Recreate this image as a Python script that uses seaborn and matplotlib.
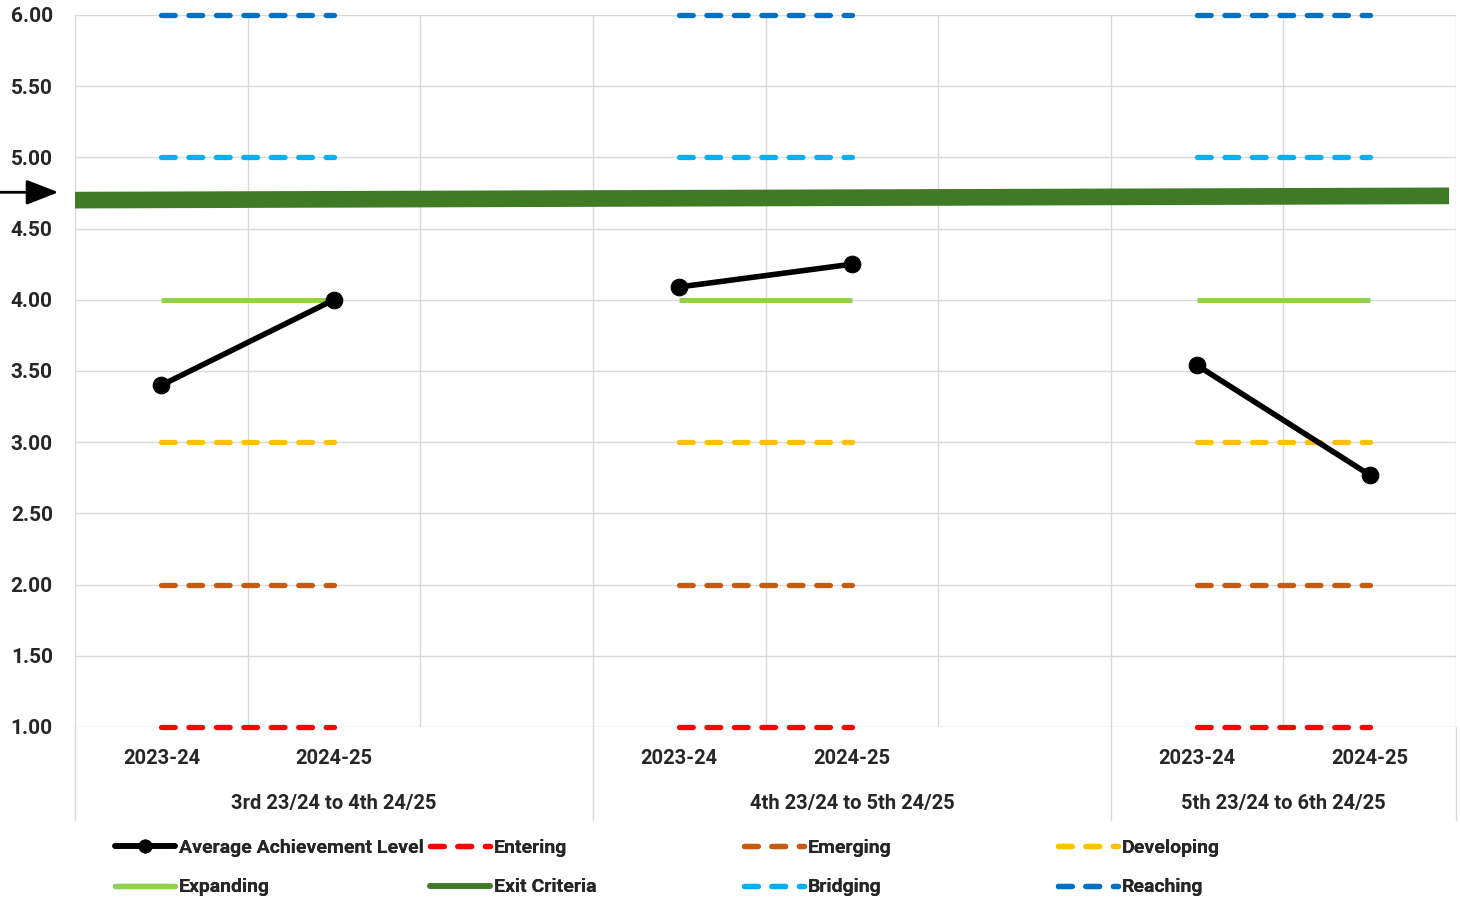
import numpy as np
import pandas as pd
import matplotlib
matplotlib.use("Agg")
import matplotlib.pyplot as plt
from matplotlib.lines import Line2D
import seaborn as sns

# categories on the x axis (blank slot between groups)
categories = ['2023-24', '2024-25', '', '2023-24', '2024-25', '', '2023-24', '2024-25']
group_names = ['3rd 23/24 to 4th 24/25', '4th 23/24 to 5th 24/25', '5th 23/24 to 6th 24/25']
group_start = [0, 3, 6]

avg_2324 = [3.40, 4.09, 3.54]
avg_2425 = [4.00, 4.25, 2.77]

level_names = ['Entering', 'Emerging', 'Developing', 'Expanding', 'Bridging', 'Reaching']
level_values = [1, 2, 3, 4, 5, 6]
level_colors = ['#FF0000', '#C55A11', '#FFC000', '#92D050', '#00B0F0', '#0070C0']

exit_values = [4.70, 4.73]
exit_color = '#3E7B24'

sns.set_theme(style='white')
plt.rcParams['font.family'] = ['Roboto', 'DejaVu Sans']
plt.rcParams['font.weight'] = 'bold'

fig = plt.figure(figsize=(14.6, 9.08), dpi=100)
ax = fig.add_axes([75/1460, 1-727/908, 1381/1460, 712/908])

# average achievement data as a frame
rows = []
for g, s in enumerate(group_start):
    rows.append({'group': group_names[g], 'pos': s, 'avg': avg_2324[g]})
    rows.append({'group': group_names[g], 'pos': s + 1, 'avg': avg_2425[g]})
df = pd.DataFrame(rows)

dash = (0, (2.6, 2.6))

# level reference lines
handles = {}
for name, val, col in zip(level_names, level_values, level_colors):
    for s in group_start:
        if name == 'Expanding':
            ax.plot([s, s + 1], [val, val], color=col, lw=3.6, solid_capstyle='butt',
                    clip_on=False, zorder=3)
        else:
            ax.plot([s, s + 1], [val, val], color=col, lw=3.8, ls=dash,
                    dash_capstyle='round', clip_on=False, zorder=3)
    if name == 'Expanding':
        handles[name] = Line2D([], [], color=col, lw=3.8, solid_capstyle='round')
    else:
        handles[name] = Line2D([], [], color=col, lw=3.8, ls=dash, dash_capstyle='round')

# exit criteria band
ax.plot([-0.5, 7.46], exit_values, color=exit_color, lw=12, solid_capstyle='butt', zorder=4)
handles['Exit Criteria'] = Line2D([], [], color=exit_color, lw=4, solid_capstyle='round')

for g in group_names:
    sns.lineplot(data=df[df['group'] == g], x='pos', y='avg', color='black', lw=4,
                 marker='o', markersize=12, markeredgecolor='black', ax=ax, zorder=5,
                 legend=False)
handles['Average Achievement Level'] = Line2D([], [], color='black', lw=4, marker='o',
                                              markersize=9, solid_capstyle='round')

ax.set_xlim(-0.5, 7.5)
ax.set_ylim(1, 6)
ax.set_yticks(np.arange(1, 6.01, 0.5))
ax.set_yticklabels([f'{v:.2f}' for v in np.arange(1, 6.01, 0.5)], fontsize=15, fontweight='bold')
ax.set_xticks(range(len(categories)))
ax.set_xticklabels(categories, fontsize=14.5, fontweight='bold')
ax.set_xticks(np.arange(-0.5, 8, 1), minor=True)
ax.tick_params(axis='both', which='both', length=0)
ax.tick_params(axis='y', pad=16)
ax.tick_params(axis='x', pad=16)
ax.grid(axis='y', which='major', color='#D9D9D9', lw=1)
ax.grid(axis='x', which='minor', color='#D9D9D9', lw=1)
ax.grid(axis='x', which='major', visible=False)
ax.set_xlabel('')
ax.set_ylabel('')
for sp in ax.spines.values():
    sp.set_visible(False)

# group labels and separators below the axis
trans = ax.get_xaxis_transform()
bounds = [-0.5, 2.5, 5.5, 7.5]
for i, g in enumerate(group_names):
    ax.text((bounds[i] + bounds[i + 1]) / 2, -0.108, g, transform=trans, ha='center',
            va='center', fontsize=14.5, fontweight='bold')
for b in bounds:
    ax.plot([b, b], [0, -0.1306], transform=trans, color='#D9D9D9', lw=1, clip_on=False)

# arrow pointing at exit criteria
ax.annotate('', xy=(-0.012, 4.755), xytext=(-0.055, 4.755),
            xycoords=('axes fraction', 'data'), textcoords=('axes fraction', 'data'),
            arrowprops=dict(arrowstyle='-|>,head_length=0.9,head_width=0.35', color='black',
                            lw=2, mutation_scale=22, shrinkA=0, shrinkB=0))

# legend in four fixed columns
columns = [['Average Achievement Level', 'Expanding'], ['Entering', 'Exit Criteria'],
           ['Emerging', 'Bridging'], ['Developing', 'Reaching']]
col_x = [115, 430, 744, 1058]
for cx, names in zip(col_x, columns):
    leg = fig.legend([handles[n] for n in names], names, loc='upper left',
                     bbox_to_anchor=(cx/1460, 1-839/908), frameon=False, borderpad=0,
                     borderaxespad=0, handlelength=3.1, handletextpad=0.2,
                     labelspacing=1.1, numpoints=1, prop={'size': 14, 'weight': 'bold'})
    fig.add_artist(leg)

fig.savefig('out.png', dpi=100)
